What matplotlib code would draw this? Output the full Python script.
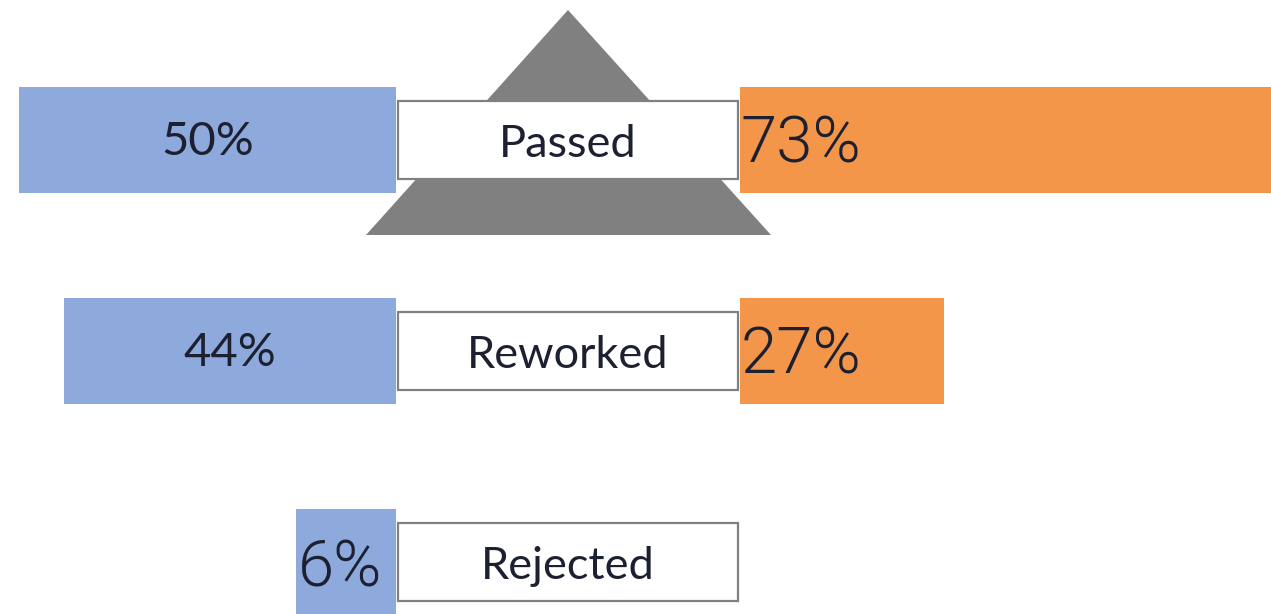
import matplotlib
matplotlib.use("Agg")
import matplotlib.pyplot as plt
from matplotlib.patches import Rectangle, Polygon

# ---- data ----
categories = ["Passed", "Reworked", "Rejected"]
left_values = [50, 44, 6]
right_values = [73, 27, 0]
left_labels = ["50%", "44%", "6%"]
right_labels = ["73%", "27%", ""]

# ---- style / layout ----
W, H = 1271, 614
BLUE = "#8EA9DB"
ORANGE = "#F4964A"
GREY = "#808080"
TEXT = "#1c2030"
PX_PER_PCT = 7.54          # horizontal scale of the bars
MIN_BAR = 13.2             # minimum displayed bar width (so label fits)
ROW0_PX, ROW_STEP_PX = 140, 211
LEFT_END_PX, BOX_L_PX, BOX_R_PX, RIGHT_START_PX = 396, 398, 738, 740
BAR_H = 0.5
BOX_H = 0.365
BIG_FONT = dict(fontsize=47, family=["Roboto", "DejaVu Sans"], fontweight=300)

def py(px):
    return (px - ROW0_PX) / ROW_STEP_PX

ytop, ybot = py(0), py(H)
rows = list(range(len(categories)))

fig = plt.figure(figsize=(W / 100, H / 100), dpi=100)

# background axes (pixel x, row y) for the triangle and the label boxes
bg = fig.add_axes([0, 0, 1, 1])
bg.set_xlim(0, W)
bg.set_ylim(ybot, ytop)
bg.axis("off")
tri = Polygon([(568, py(10)), (366, py(235)), (771, py(235))],
              closed=True, facecolor=GREY, edgecolor="none", zorder=1)
bg.add_patch(tri)
for r, name in zip(rows, categories):
    bg.add_patch(Rectangle((BOX_L_PX, r - BOX_H / 2), BOX_R_PX - BOX_L_PX, BOX_H,
                           facecolor="white", edgecolor=GREY, linewidth=1.6, zorder=2))
    bg.text((BOX_L_PX + BOX_R_PX) / 2, r + 0.02, name, ha="center", va="center",
            fontsize=32.5, family=["Lato", "DejaVu Sans"], color=TEXT, zorder=3)

# left (blue) bars, growing leftwards
axl = fig.add_axes([0, 0, LEFT_END_PX / W, 1])
axl.patch.set_alpha(0)
axl.set_xlim(LEFT_END_PX / PX_PER_PCT, 0)
axl.set_ylim(ybot, ytop)
axl.axis("off")
disp_left = [max(v, MIN_BAR) if v > 0 else 0 for v in left_values]
axl.barh(rows, disp_left, height=BAR_H, color=BLUE, left=0)
for r, d, v, lab in zip(rows, disp_left, left_values, left_labels):
    if v >= MIN_BAR:
        axl.text(d / 2, r + 0.01, lab, ha="center", va="center", fontsize=34,
                 family=["Lato", "DejaVu Sans"], color=TEXT)
    else:
        axl.text(d - 0.2, r + 0.03, lab, ha="left", va="center", color=TEXT, **BIG_FONT)

# right (orange) bars
axr = fig.add_axes([RIGHT_START_PX / W, 0, (W - RIGHT_START_PX) / W, 1])
axr.patch.set_alpha(0)
axr.set_xlim(0, (W - RIGHT_START_PX) / PX_PER_PCT)
axr.set_ylim(ybot, ytop)
axr.axis("off")
axr.barh(rows, right_values, height=BAR_H, color=ORANGE, left=0)
for r, v, lab in zip(rows, right_values, right_labels):
    if v > 0:
        axr.text(0.1, r + 0.02, lab, ha="left", va="center", color=TEXT, **BIG_FONT)

fig.savefig("out.png", dpi=100)
